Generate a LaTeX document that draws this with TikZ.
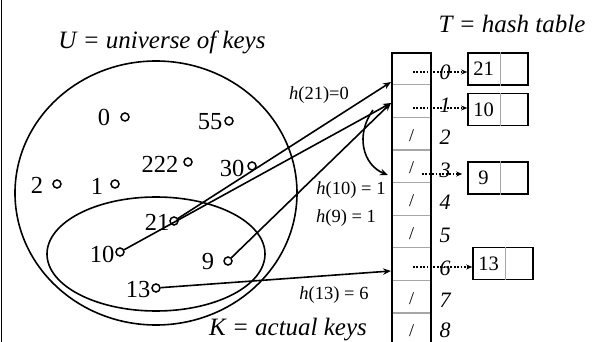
\documentclass[tikz,border=0pt]{standalone}
\usepackage{fontspec}
\setmainfont{Liberation Serif}
\usetikzlibrary{arrows.meta,calc}
\begin{document}
\begin{tikzpicture}[x=1pt,y=-1pt,line width=1.6pt,
  bigtext/.style={font=\fontsize{25}{29}\selectfont\itshape,inner sep=0pt},
  keylab/.style={font=\fontsize{24.5}{28}\selectfont,inner sep=0pt},
  keydot/.style={circle,draw,line width=1.5pt,minimum size=8pt,inner sep=0pt},
  hlab/.style={font=\fontsize{18.5}{22}\selectfont,inner sep=0pt},
  idx/.style={font=\fontsize{22}{25}\selectfont\itshape,inner sep=0pt},
  slash/.style={font=\fontsize{18}{22}\selectfont,inner sep=0pt},
  cell/.style={minimum width=39pt,minimum height=32.6pt,inner sep=0pt},
  listbox/.style={draw,minimum width=60pt,minimum height=32pt,inner sep=0pt},
  val/.style={font=\fontsize{20.5}{24}\selectfont,inner sep=0pt},
  arr/.style={-{Stealth[length=8pt,width=6.5pt]}},
  dotarr/.style={dash pattern=on 1.7pt off 1.7pt,-{Stealth[length=6pt,width=5pt]}}
]
\useasboundingbox (0,0) rectangle (598,342);
\draw (1.5,0) -- (1.5,342);

% sets
\draw (156,193) ellipse [x radius=141, y radius=132];
\draw (156,254) ellipse [x radius=109, y radius=57];
\node[bigtext] (U) at (162,42) {U = universe of keys};
\node[bigtext] (K) at (288,330) {K = actual keys};
\node[bigtext] (T) at (512,24) {T = hash table};

% keys
\node[keydot] (k0) at (125,117) {};   \node[keylab] (l0) at (104,117) {0};
\node[keydot] (k55) at (229,121) {};  \node[keylab] (l55) at (210,122) {55};
\node[keydot] (k222) at (188,162) {}; \node[keylab] (l222) at (160,164) {222};
\node[keydot] (k30) at (252,166) {};  \node[keylab] (l30) at (232,168) {30};
\node[keydot] (k2) at (57,184) {};    \node[keylab] (l2) at (37,185) {2};
\node[keydot] (k1) at (115,184) {};   \node[keylab] (l1) at (97,186) {1};
\node[keydot] (k21) at (174,221) {};  \node[keylab] (l21) at (157,222) {21};
\node[keydot] (k10) at (120,252) {};  \node[keylab] (l10) at (102,254) {10};
\node[keydot] (k9) at (228,261) {};   \node[keylab] (l9) at (208,262) {9};
\node[keydot] (k13) at (156,288) {};  \node[keylab] (l13) at (138,290) {13};

% hash table
\foreach \i in {0,...,8} {
  \node[cell] (r\i) at (411.5,{53+32.6*(\i+0.5)}) {};
}
\foreach \i in {0,...,7} {
  \node[idx] (i\i) at (445,{53+32.6*(\i+0.5)+3}) {\i};
}
\node[idx] (i8) at (445,330) {8};
\foreach \i in {1,...,8} {
  \draw[gray!70,line width=1.1pt] (r\i.north west) -- (r\i.north east);
}
\draw (392,345) -- (392,53) -- (431,53) -- (431,345);
\foreach \i in {2,3,4,5,7,8} {
  \node[slash] at ($(r\i.center)+(0,1)$) {/};
}

% chained lists
\node[listbox] (b21) at (498,69) {};
\node[listbox] (b10) at (498,109.5) {};
\node[listbox] (b9) at (498,178) {};
\node[listbox] (b13) at (503,263.5) {};
\foreach \b/\v in {b21/21,b10/10,b9/9,b13/13} {
  \draw[gray!70,line width=1.1pt] ($(\b.north)+(2.5,0)$) -- ($(\b.south)+(2.5,0)$);
  \node[val] at ($(\b.center)+(-14.5,0)$) {\v};
}

% dotted pointers
\coordinate (d0) at (413,72);
\coordinate (d1) at (413,108);
\coordinate (d3) at (422,174);
\coordinate (d6) at (413,267);
\draw[dotarr] (d0) -- (d0 -| b21.west);
\draw[dotarr] (d1) -- (d1 -| b10.west);
\draw[dotarr] (d3) -- ($(d3 -| b9.west)+(-5,0)$);
\draw[dotarr] (d6) -- (d6 -| b13.west);

% hash arrows
\coordinate (t0) at (391,82);
\coordinate (t1) at (391,103);
\coordinate (t6) at (391,271);
\coordinate (cs) at (373,110);
\coordinate (ce) at (388,175);
\draw[arr] (k21) -- (t0);
\draw[arr] (k10) -- (t1);
\draw[arr] (k9) -- (t1);
\draw[arr] (k13) -- (t6);
\draw[arr] (cs) .. controls (355,135) and (363,165) .. (ce);

\node[hlab] (h21) at (319,95) {\textit{h}(21)=0};
\node[hlab] (h10) at (351,190) {\textit{h}(10) = 1};
\node[hlab] (h9) at (346,218) {\textit{h}(9) = 1};
\node[hlab] (h13) at (334,295) {\textit{h}(13) = 6};
\end{tikzpicture}
\end{document}
